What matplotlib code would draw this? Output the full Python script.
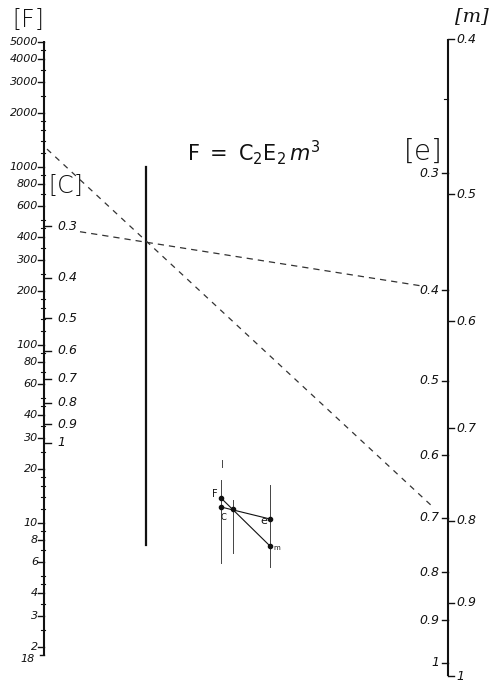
import numpy as np
import matplotlib
matplotlib.use('Agg')
import matplotlib.pyplot as plt

# ---------------- data ----------------
F_ticks = [5000, 4000, 3000, 2000, 1000, 800, 600, 400, 300, 200,
           100, 80, 60, 40, 30, 20, 10, 8, 6, 4, 3, 2]
F_tick_labels = ['5000', '4000', '3000', '2000', '1000', '800', '600', '400',
                 '300', '200', '100', '80', '60', '40', '30', '20', '10', '8',
                 '6', '4', '3', '2']
F_bottom = 1.8
F_bottom_label = '18'
F_minor_mantissas = [1.2, 1.4, 1.6, 1.8, 2.5, 3.5, 4.5, 5, 7, 9]

C_ticks = [0.3, 0.4, 0.5, 0.6, 0.7, 0.8, 0.9, 1.0]
C_tick_labels = ['0.3', '0.4', '0.5', '0.6', '0.7', '0.8', '0.9', '1']

e_ticks = [0.3, 0.4, 0.5, 0.6, 0.7, 0.8, 0.9, 1.0]
e_tick_labels = ['0.3', '0.4', '0.5', '0.6', '0.7', '0.8', '0.9', '1']
e_extra_tick = [0.25]

m_ticks = [0.4, 0.5, 0.6, 0.7, 0.8, 0.9, 1.0]
m_tick_labels = ['0.4', '0.5', '0.6', '0.7', '0.8', '0.9', '1']

# example isopleths
iso1_C, iso1_e = 0.3, 0.4
iso2_F, iso2_m = 1300, 0.8

# ---------------- scales (pixel layout of the nomogram) ----------------
X_LEFT, X_MID, X_RIGHT = 44, 146, 448


def yF(v):
    return 700.6 - 178.0 * np.log10(v)


def yC(v):
    return 443.0 + 415.0 * np.log10(v)


def ye(v):
    return 663.0 + 937.0 * np.log10(v)


def ym(v):
    return 676.0 + 1600.0 * np.log10(v)


fig = plt.figure(figsize=(4.97, 6.87), dpi=100)
ax = fig.add_axes([0, 0, 1, 1])
ax.set_xlim(0, 497)
ax.set_ylim(687, 0)
ax.axis('off')

INK = '#111111'
FONT = dict(family='DejaVu Sans', style='italic', color=INK)

# ---- left axis (F and C) ----
ax.plot([X_LEFT, X_LEFT], [yF(5000) - 1, yF(F_bottom)], color=INK, lw=1.5,
        solid_capstyle='butt')
for v, lab in zip(F_ticks, F_tick_labels):
    y = yF(v)
    ax.plot([X_LEFT - 6, X_LEFT], [y, y], color=INK, lw=1.0)
    ax.text(X_LEFT - 6, y, lab, ha='right', va='center', fontsize=8, **FONT)
ax.plot([X_LEFT - 4, X_LEFT], [yF(F_bottom)] * 2, color=INK, lw=1.0)
ax.text(X_LEFT - 9, yF(F_bottom) + 4, F_bottom_label, ha='right', va='center',
        fontsize=8, **FONT)
for d in [1, 10, 100, 1000]:
    for mnt in F_minor_mantissas:
        v = mnt * d
        if F_bottom < v <= 5000 and v not in F_ticks:
            y = yF(v)
            ax.plot([X_LEFT - 3, X_LEFT + 1], [y, y], color=INK, lw=0.8)

for v, lab in zip(C_ticks, C_tick_labels):
    y = yC(v)
    ax.plot([X_LEFT, X_LEFT + 7], [y, y], color=INK, lw=1.0)
    ax.text(X_LEFT + 13, y, lab, ha='left', va='center', fontsize=9, **FONT)

# ---- middle axis ----
ax.plot([X_MID, X_MID], [167, 545], color=INK, lw=1.6)

# ---- right axis (e and m) ----
ax.plot([X_RIGHT, X_RIGHT], [ym(0.4), ym(1.0)], color=INK, lw=1.5,
        solid_capstyle='butt')
for v, lab in zip(e_ticks, e_tick_labels):
    y = ye(v)
    ax.plot([X_RIGHT - 6, X_RIGHT], [y, y], color=INK, lw=1.0)
    ax.text(X_RIGHT - 9, y, lab, ha='right', va='center', fontsize=9, **FONT)
for v in e_extra_tick:
    y = ye(v)
    ax.plot([X_RIGHT - 4, X_RIGHT], [y, y], color=INK, lw=0.8)
for v, lab in zip(m_ticks, m_tick_labels):
    y = ym(v)
    ax.plot([X_RIGHT, X_RIGHT + 6], [y, y], color=INK, lw=1.0)
    ax.text(X_RIGHT + 8, y, lab, ha='left', va='center', fontsize=9, **FONT)

# ---- isopleths ----
def line_between(x0, y0, x1, y1, xa, xb):
    t = np.array([(xa - x0) / (x1 - x0), (xb - x0) / (x1 - x0)])
    return x0 + t * (x1 - x0), y0 + t * (y1 - y0)

xs, ys = line_between(X_LEFT, yC(iso1_C), X_RIGHT, ye(iso1_e), 80, 420)
ax.plot(xs, ys, color='#333333', lw=0.9, dashes=(5, 4))
xs, ys = line_between(X_LEFT, yF(iso2_F), X_RIGHT, ym(iso2_m), 47, 433)
ax.plot(xs, ys, color='#333333', lw=0.9, dashes=(4.5, 4.5))

# ---- scale titles ----
LBL = dict(family='DejaVu Sans', color=INK, fontweight='light')
ax.text(28, 20, '[F]', ha='center', va='center', fontsize=17, **LBL)
ax.text(66, 186, '[C]', ha='center', va='center', fontsize=17, **LBL)
ax.text(423, 152, '[e]', ha='center', va='center', fontsize=20, **LBL)
ax.text(472, 16, '[m]', ha='center', va='center', fontsize=14,
        family='DejaVu Serif', style='italic', color=INK)

ax.text(187, 153, r'$\mathregular{F\ =\ C_2E_2}\,\mathit{m}^3$', ha='left',
        va='center', fontsize=15, color=INK)

# ---- small key diagram ----
k_x = [221, 233, 270]
k_top = [480, 500, 485]
k_bot = [563, 553, 567]
for x, t, b in zip(k_x, k_top, k_bot):
    ax.plot([x, x], [t, b], color='#444444', lw=0.7)
ax.plot([222, 222], [460, 467], color='#444444', lw=0.7)
kF, kC, kM, kE, kMm = (221, 498), (221, 507), (233, 509), (270, 519), (270, 546)
ax.plot([kC[0], kE[0]], [kC[1], kE[1]], color=INK, lw=0.8)
ax.plot([kF[0], kMm[0]], [kF[1], kMm[1]], color=INK, lw=0.8)
for p in [kF, kC, kM, kE, kMm]:
    ax.plot(*p, 'o', ms=3, color=INK)
ax.text(215, 494, 'F', ha='center', va='center', fontsize=7, color=INK)
ax.text(223, 518, 'C', ha='center', va='center', fontsize=6, color=INK)
ax.text(264, 521, 'e', ha='center', va='center', fontsize=8, color=INK)
ax.text(277, 548, 'm', ha='center', va='center', fontsize=5, color=INK)

fig.savefig('out.png', dpi=100, facecolor='white')
